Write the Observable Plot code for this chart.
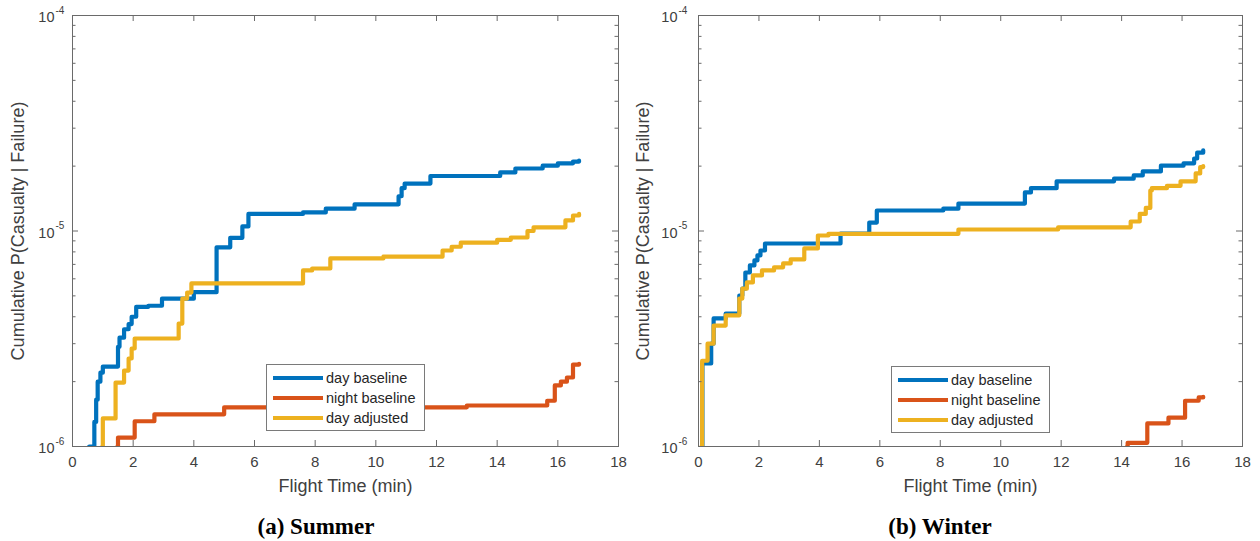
<!DOCTYPE html>
<html>
<head>
<meta charset="utf-8">
<script src="https://cdn.jsdelivr.net/npm/d3@7"></script>
<script src="https://cdn.jsdelivr.net/npm/@observablehq/plot@0.6"></script>
<style>
  body { margin: 0; background: #fff; font-family: "Liberation Sans", Arial, sans-serif; }
  #wrap { position: relative; width: 1260px; height: 541px; overflow: hidden; }
  .panel { position: absolute; top: 0; }
  .legend { position: absolute; box-sizing: border-box; width: 159px; height: 67px; border: 1px solid #7a7a7a; background: #fff; padding: 3px 0 0 6px; }
  .legend .row { display: flex; align-items: center; height: 20px; font-size: 14.5px; color: #262626; white-space: nowrap; }
  .legend .sw { width: 50px; height: 4px; margin-right: 3px; }
  .caption { position: absolute; top: 513px; line-height: 28px; transform: translateX(-50%); font-family: "Liberation Serif", "Times New Roman", serif; font-weight: bold; font-size: 23px; color: #000; white-space: nowrap; }
</style>
</head>
<body>
<div id="wrap"></div>
<script>
// ---- data ----
const seriesNames = ["day baseline", "night baseline", "day adjusted"];
const seriesColors = ["#0072BD", "#D95319", "#EDB120"];
const xTicks = [0, 2, 4, 6, 8, 10, 12, 14, 16, 18];
const yMajor = [1e-6, 1e-5, 1e-4];
const yMajorBase = ["10", "10", "10"];
const yMajorExp = ["-6", "-5", "-4"];
const yMinor = [2e-6, 3e-6, 4e-6, 5e-6, 6e-6, 7e-6, 8e-6, 9e-6, 2e-5, 3e-5, 4e-5, 5e-5, 6e-5, 7e-5, 8e-5, 9e-5];
const yLabel = "Cumulative P(Casualty | Failure)";
const xLabel = "Flight Time (min)";
const panelCaptions = ["(a) Summer", "(b) Winter"];

// Summer: [flight time (min), cumulative P]
const summerDayBaseline = [
  [0.55, 1.0e-6], [0.72, 1.3e-6], [0.78, 1.65e-6], [0.83, 2.0e-6], [0.92, 2.2e-6], [1.0, 2.35e-6],
  [1.5, 2.9e-6], [1.55, 3.2e-6], [1.7, 3.5e-6], [1.85, 3.7e-6], [1.95, 4.0e-6], [2.1, 4.45e-6],
  [2.5, 4.5e-6], [2.95, 4.85e-6], [4.0, 5.2e-6], [4.75, 8.4e-6], [5.2, 9.3e-6], [5.6, 1.05e-5],
  [5.8, 1.2e-5], [7.6, 1.22e-5], [8.35, 1.27e-5], [9.3, 1.33e-5], [10.75, 1.45e-5], [10.85, 1.58e-5],
  [10.95, 1.66e-5], [11.8, 1.8e-5], [14.1, 1.87e-5], [14.6, 1.95e-5], [15.5, 2.01e-5], [16.0, 2.06e-5],
  [16.5, 2.1e-5], [16.7, 2.12e-5]
];
const summerNightBaseline = [
  [1.48, 1.0e-6], [1.5, 1.1e-6], [2.05, 1.31e-6], [2.7, 1.41e-6], [5.0, 1.52e-6], [13.0, 1.55e-6],
  [15.65, 1.63e-6], [15.9, 1.92e-6], [16.1, 2.0e-6], [16.3, 2.09e-6], [16.5, 2.4e-6], [16.7, 2.42e-6]
];
const summerDayAdjusted = [
  [0.98, 1.0e-6], [1.0, 1.35e-6], [1.42, 1.98e-6], [1.7, 2.25e-6], [1.85, 2.56e-6], [1.95, 2.85e-6],
  [2.05, 3.17e-6], [3.5, 3.72e-6], [3.62, 4.86e-6], [3.78, 5.18e-6], [3.92, 5.71e-6], [7.6, 6.56e-6],
  [7.9, 6.7e-6], [8.5, 7.46e-6], [10.25, 7.6e-6], [12.2, 8.12e-6], [12.5, 8.45e-6], [12.8, 8.83e-6],
  [14.0, 9.1e-6], [14.45, 9.33e-6], [15.0, 1.0e-5], [15.2, 1.04e-5], [16.25, 1.12e-5], [16.5, 1.18e-5],
  [16.7, 1.2e-5]
];

// Winter
const winterDayBaseline = [
  [0.12, 1.0e-6], [0.13, 2.43e-6], [0.42, 3.0e-6], [0.5, 3.93e-6], [0.9, 4.14e-6], [1.35, 5.02e-6],
  [1.45, 5.4e-6], [1.55, 6.42e-6], [1.7, 6.92e-6], [1.85, 7.3e-6], [1.95, 7.7e-6], [2.05, 8.12e-6],
  [2.2, 8.75e-6], [4.7, 9.73e-6], [5.65, 1.094e-5], [5.9, 1.245e-5], [8.1, 1.27e-5], [8.6, 1.34e-5],
  [10.8, 1.51e-5], [11.0, 1.58e-5], [11.85, 1.7e-5], [13.75, 1.75e-5], [14.4, 1.81e-5], [14.7, 1.89e-5],
  [15.3, 2.01e-5], [16.05, 2.06e-5], [16.4, 2.17e-5], [16.5, 2.31e-5], [16.7, 2.37e-5]
];
const winterNightBaseline = [
  [14.18, 1.0e-6], [14.2, 1.04e-6], [14.85, 1.28e-6], [15.55, 1.36e-6], [16.1, 1.63e-6], [16.55, 1.69e-6],
  [16.7, 1.7e-6]
];
const winterDayAdjusted = [
  [0.1, 1.0e-6], [0.12, 2.5e-6], [0.3, 3.0e-6], [0.5, 3.64e-6], [0.9, 4.06e-6], [1.35, 4.86e-6],
  [1.45, 5.4e-6], [1.6, 5.77e-6], [1.8, 6.22e-6], [2.1, 6.56e-6], [2.5, 6.78e-6], [2.8, 7.07e-6],
  [3.05, 7.38e-6], [3.5, 8.3e-6], [3.95, 9.53e-6], [4.3, 9.7e-6], [8.6, 1.016e-5], [11.9, 1.04e-5],
  [14.3, 1.107e-5], [14.6, 1.2e-5], [14.8, 1.28e-5], [14.95, 1.54e-5], [15.0, 1.58e-5], [15.5, 1.62e-5],
  [15.95, 1.7e-5], [16.45, 1.85e-5], [16.6, 1.98e-5], [16.7, 2.0e-5]
];

// ---- drawing ----
const axisGray = "#6a6a6a";
const textGray = "#404040";
const W = 630, H = 500, PLOT_BOTTOM = 446;

function makePanel(series, m) {
  const rows = series.flatMap((pts, i) => pts.map(([t, v]) => ({t, v, s: seriesNames[i]})));
  const fw = W - m.left - m.right;          // frame width in px
  const fh = PLOT_BOTTOM - m.top;           // frame height in px
  const tick = (len, side) => {
    // inward tick of length len on a given side, via insets of a full-frame tick
    const o = {stroke: axisGray, strokeWidth: 1};
    if (side === "bottom") o.insetTop = fh - len;
    if (side === "top") o.insetBottom = fh - len;
    if (side === "left") o.insetRight = fw - len;
    if (side === "right") o.insetLeft = fw - len;
    return o;
  };
  return Plot.plot({
    width: W,
    height: H,
    marginLeft: m.left,
    marginRight: m.right,
    marginTop: m.top,
    marginBottom: H - PLOT_BOTTOM,
    x: {domain: [0, 18], axis: null},
    y: {type: "log", domain: [1e-6, 1e-4], axis: null},
    color: {domain: seriesNames, range: seriesColors},
    style: {fontFamily: "'Liberation Sans', Arial, sans-serif", background: "#fff", overflow: "visible"},
    marks: [
      Plot.line(rows, {x: "t", y: "v", z: "s", stroke: "s", curve: "step-after", strokeWidth: 4.2, clip: true}),
      Plot.frame({stroke: axisGray}),
      // inward ticks on all four sides
      Plot.tickX(xTicks, {x: d => d, ...tick(6, "bottom")}),
      Plot.tickX(xTicks, {x: d => d, ...tick(6, "top")}),
      Plot.tickY(yMajor, {y: d => d, ...tick(6, "left")}),
      Plot.tickY(yMajor, {y: d => d, ...tick(6, "right")}),
      Plot.tickY(yMinor, {y: d => d, ...tick(3.5, "left")}),
      Plot.tickY(yMinor, {y: d => d, ...tick(3.5, "right")}),
      // x tick labels
      Plot.text(xTicks, {x: d => d, text: d => String(d), frameAnchor: "bottom", lineAnchor: "top", dy: 10, fontSize: 15, fill: textGray}),
      // y tick labels: 10 with superscript exponent
      Plot.text(yMajor, {y: d => d, text: (d, i) => yMajorBase[i], frameAnchor: "left", textAnchor: "end", dx: m.baseDx, dy: 2, fontSize: 14.5, fill: textGray}),
      Plot.text(yMajor, {y: d => d, text: (d, i) => yMajorExp[i], frameAnchor: "left", textAnchor: "start", dx: m.baseDx + 1, dy: -5, fontSize: 10, fill: textGray}),
      // axis titles
      Plot.text([xLabel], {text: d => d, frameAnchor: "bottom", textAnchor: "middle", lineAnchor: "top", dy: 33, fontSize: 18, fill: textGray}),
      Plot.text([yLabel], {text: d => d, frameAnchor: "left", textAnchor: "middle", rotate: -90, dx: m.labelDx, fontSize: 18, fill: textGray})
    ]
  });
}

const wrap = document.getElementById("wrap");
const panels = [
  {series: [summerDayBaseline, summerNightBaseline, summerDayAdjusted], left: 72, right: 12, top: 15, baseDx: -18, labelDx: -54, offset: 0,
   legend: {left: 266, top: 364}, caption: 316},
  {series: [winterDayBaseline, winterNightBaseline, winterDayAdjusted], left: 68, right: 18, top: 15, baseDx: -21, labelDx: -55, offset: 630,
   legend: {left: 891, top: 366}, caption: 940}
];

panels.forEach((p, k) => {
  const div = document.createElement("div");
  div.className = "panel";
  div.style.left = p.offset + "px";
  div.appendChild(makePanel(p.series, p));
  wrap.appendChild(div);

  const lg = document.createElement("div");
  lg.className = "legend";
  lg.style.left = p.legend.left + "px";
  lg.style.top = p.legend.top + "px";
  seriesNames.forEach((name, i) => {
    const row = document.createElement("div");
    row.className = "row";
    const sw = document.createElement("div");
    sw.className = "sw";
    sw.style.background = seriesColors[i];
    const label = document.createElement("span");
    label.textContent = name;
    row.appendChild(sw);
    row.appendChild(label);
    lg.appendChild(row);
  });
  wrap.appendChild(lg);

  const cap = document.createElement("div");
  cap.className = "caption";
  cap.style.left = p.caption + "px";
  cap.textContent = panelCaptions[k];
  wrap.appendChild(cap);
});
</script>
</body>
</html>
